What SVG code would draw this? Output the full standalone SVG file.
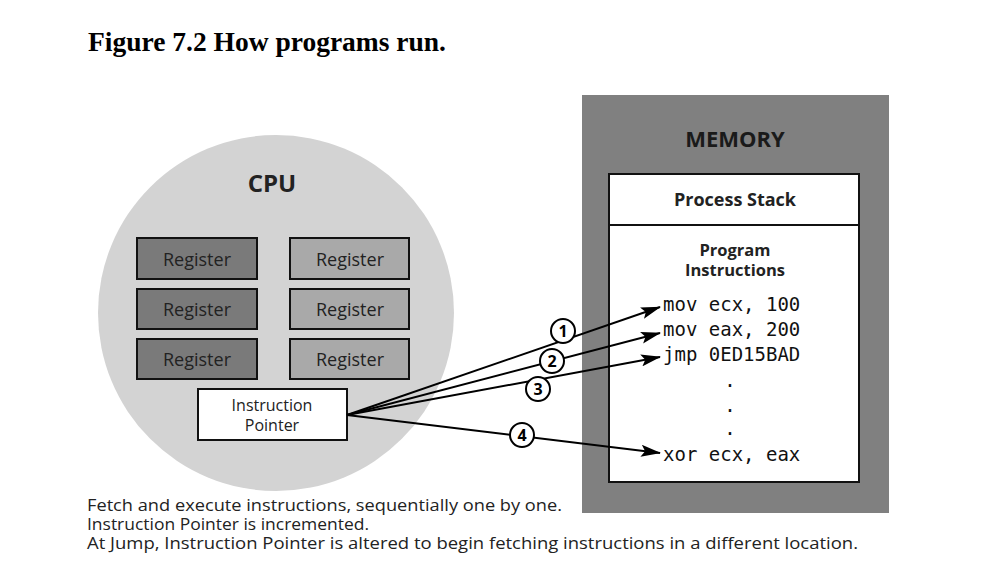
<svg xmlns="http://www.w3.org/2000/svg" width="1000" height="580" viewBox="0 0 1000 580">
<defs>
<marker id="ah" viewBox="0 0 20 12" refX="19" refY="6" markerWidth="20" markerHeight="12" markerUnits="userSpaceOnUse" orient="auto">
<path d="M0,0 L20,6 L0,12 L4,6 Z" fill="#000"/>
</marker>
</defs>
<style>
.sans{font-family:"Open Sans","Noto Sans","DejaVu Sans",sans-serif;fill:#222}
.b{font-weight:bold}
.mono{font-family:"DejaVu Sans Mono","Liberation Mono",monospace;font-size:19px;fill:#111}
.reg{stroke:#111;stroke-width:2}
.dark{fill:#7a7a7a}
.light{fill:#a9a9a9}
.conn{stroke:#000;stroke-width:2;fill:none;marker-end:url(#ah)}
.num{fill:#fff;stroke:#000;stroke-width:2}
</style>
<rect width="1000" height="580" fill="#fff"/>
<text x="88" y="51" font-family="Liberation Serif,serif" font-weight="bold" font-size="27" textLength="358" lengthAdjust="spacingAndGlyphs" fill="#000">Figure 7.2 How programs run.</text>

<g id="cpu">
<circle cx="276" cy="313" r="178" fill="#d3d3d3"/>
<text x="272" y="192" text-anchor="middle" class="sans b" font-size="24">CPU</text>
</g>
<g id="reg1"><rect x="137" y="238" width="120" height="41" class="reg dark"/><text x="197" y="266" text-anchor="middle" class="sans" font-size="18">Register</text></g>
<g id="reg2"><rect x="290" y="238" width="119" height="41" class="reg light"/><text x="350" y="266" text-anchor="middle" class="sans" font-size="18">Register</text></g>
<g id="reg3"><rect x="137" y="289" width="120" height="40" class="reg dark"/><text x="197" y="316" text-anchor="middle" class="sans" font-size="18">Register</text></g>
<g id="reg4"><rect x="290" y="289" width="119" height="40" class="reg light"/><text x="350" y="316" text-anchor="middle" class="sans" font-size="18">Register</text></g>
<g id="reg5"><rect x="137" y="339" width="120" height="40" class="reg dark"/><text x="197" y="366" text-anchor="middle" class="sans" font-size="18">Register</text></g>
<g id="reg6"><rect x="290" y="339" width="119" height="40" class="reg light"/><text x="350" y="366" text-anchor="middle" class="sans" font-size="18">Register</text></g>
<g id="ip"><rect x="198" y="389" width="149" height="51" fill="#fff" stroke="#111" stroke-width="2"/>
<text x="272" y="411" text-anchor="middle" class="sans" font-size="16">Instruction</text>
<text x="272" y="431" text-anchor="middle" class="sans" font-size="16">Pointer</text></g>

<g id="memory">
<rect x="582" y="95" width="307" height="418" fill="#808080"/>
<text x="735" y="147" text-anchor="middle" class="sans b" font-size="22" style="fill:#1a1a1a">MEMORY</text>
</g>
<g id="stack">
<rect x="609" y="174" width="250" height="51" fill="#fff" stroke="#111" stroke-width="2"/>
<text x="735" y="206" text-anchor="middle" class="sans b" font-size="18">Process Stack</text>
</g>
<g id="program">
<rect x="609" y="225" width="250" height="257" fill="#fff" stroke="#111" stroke-width="2"/>
<text x="735" y="256" text-anchor="middle" class="sans b" font-size="16.5">Program</text>
<text x="735" y="276" text-anchor="middle" class="sans b" font-size="16.5">Instructions</text>
<text x="663" y="311" class="mono">mov ecx, 100</text>
<text x="663" y="336" class="mono">mov eax, 200</text>
<text x="663" y="361" class="mono">jmp 0ED15BAD</text>
<text x="730" y="387" class="mono" text-anchor="middle">.</text>
<text x="730" y="412" class="mono" text-anchor="middle">.</text>
<text x="730" y="435" class="mono" text-anchor="middle">.</text>
<text x="663" y="461" class="mono">xor ecx, eax</text>
</g>

<g id="connectors">
<line x1="347" y1="415" x2="660" y2="307" class="conn"/>
<line x1="347" y1="415" x2="660" y2="333" class="conn"/>
<line x1="347" y1="415" x2="660" y2="357" class="conn"/>
<line x1="347" y1="415" x2="660" y2="453" class="conn"/>
<g font-family="Open Sans,Noto Sans,sans-serif" font-weight="bold" font-size="16" text-anchor="middle">
<circle cx="563" cy="331" r="12" class="num"/><text x="563" y="337">1</text>
<circle cx="552" cy="361" r="12" class="num"/><text x="552" y="367">2</text>
<circle cx="538" cy="389" r="12" class="num"/><text x="538" y="395">3</text>
<circle cx="522" cy="435" r="12" class="num"/><text x="522" y="441">4</text>
</g>
</g>

<g id="caption" class="sans" font-size="15.5">
<text x="87" y="511" textLength="475" lengthAdjust="spacingAndGlyphs">Fetch and execute instructions, sequentially one by one.</text>
<text x="87" y="530" textLength="282" lengthAdjust="spacingAndGlyphs">Instruction Pointer is incremented.</text>
<text x="87" y="549" textLength="771" lengthAdjust="spacingAndGlyphs">At Jump, Instruction Pointer is altered to begin fetching instructions in a different location.</text>
</g>
</svg>
